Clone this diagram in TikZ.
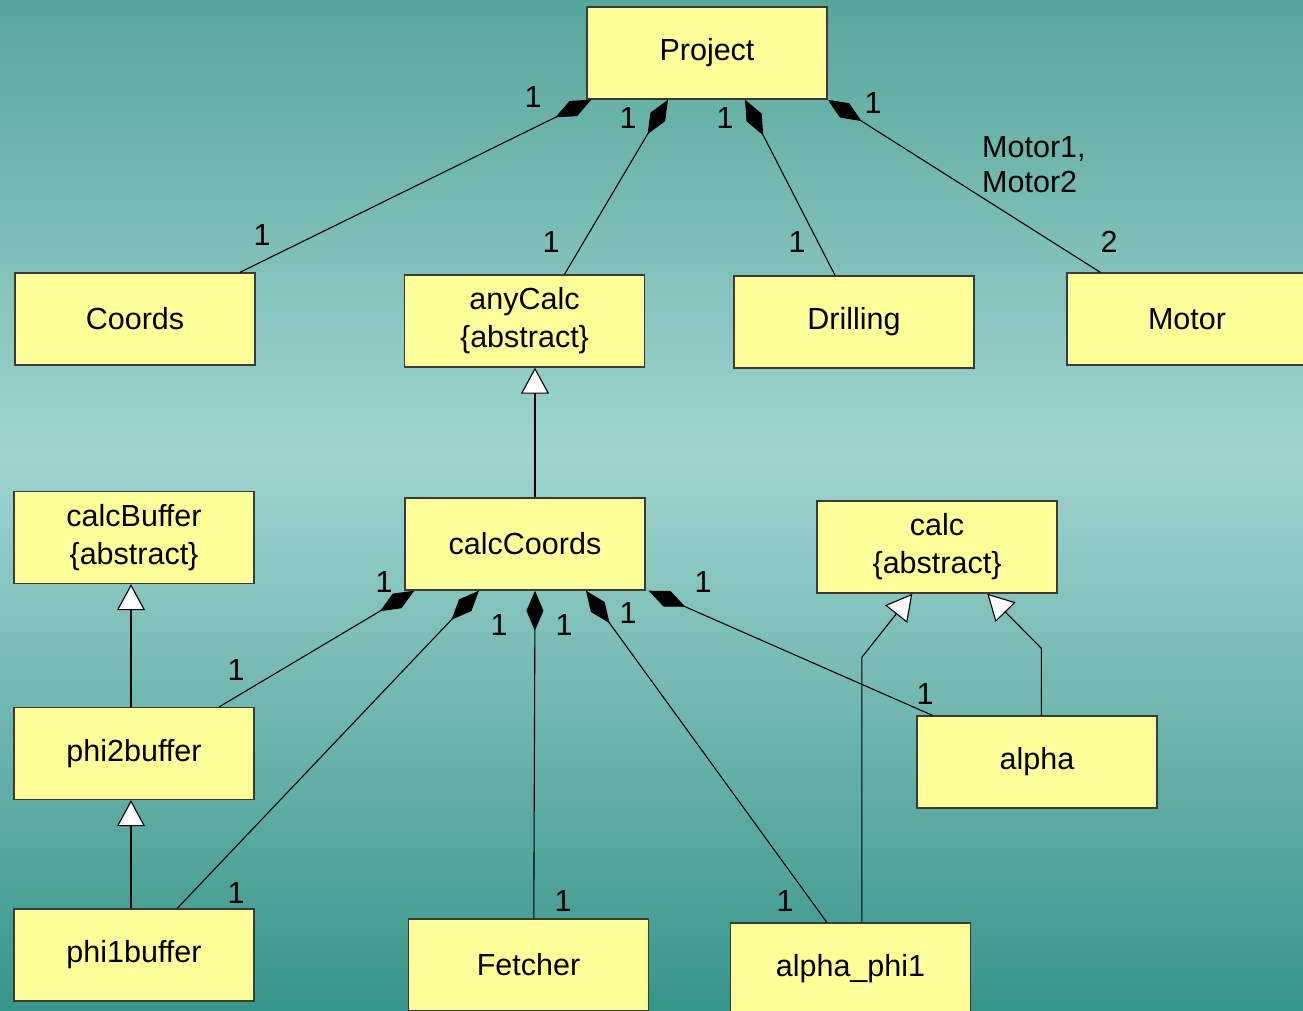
\documentclass[tikz,border=0pt]{standalone}
\usepackage{fontspec}
\setmainfont{Liberation Sans}
\usetikzlibrary{arrows.meta,calc}
\definecolor{bgtop}{HTML}{56A69A}
\definecolor{bgmid}{HTML}{A0D4CF}
\definecolor{bgbot}{HTML}{37958A}
\definecolor{boxfill}{HTML}{FFFF99}
\definecolor{boxline}{HTML}{3A3A3A}
\begin{document}
\begin{tikzpicture}[x=1pt,y=-1pt,
  cls/.style={draw=boxline, line width=1.4pt, fill=boxfill, minimum width=240pt,
    minimum height=92pt, inner sep=0pt, align=center,
    font=\fontsize{30.5}{38}\selectfont},
  mult/.style={font=\fontsize{30.5}{34}\selectfont, inner sep=0pt},
  comp/.style={line width=1.1pt, {Diamond[length=40pt,width=17pt]}-},
  inh/.style={line width=1.1pt, -{Triangle[length=26pt,width=28pt,fill=white]}},
]
\useasboundingbox (0,0) rectangle (1303,1010);
\begin{scope}
\clip (0,0) rectangle (1303,1010);
% background gradient
\shade[top color=bgtop,bottom color=bgmid] (0,0) rectangle (1303,455);
\shade[top color=bgmid,bottom color=bgbot] (0,454) rectangle (1303,1010);

% classes
\node[cls] (project)    at (707,53)    {Project};
\node[cls] (coords)     at (135,319)   {Coords};
\node[cls] (anycalc)    at (524.5,321) {anyCalc\\\{abstract\}};
\node[cls] (drilling)   at (854,322)   {Drilling};
\node[cls] (motor)      at (1187,319)  {Motor};
\node[cls] (calcbuffer) at (134,537.5) {calcBuffer\\\{abstract\}};
\node[cls] (calccoords) at (525,544)   {calcCoords};
\node[cls] (calc)       at (937,547)   {calc\\\{abstract\}};
\node[cls] (phitwo)     at (134,753.5) {phi2buffer};
\node[cls] (alpha)      at (1037,762)  {alpha};
\node[cls] (phione)     at (134,955)   {phi1buffer};
\node[cls] (fetcher)    at (528.5,965) {Fetcher};
\node[cls] (alphaphi)   at (850.5,969) {alpha\_phi1};

% compositions of Project
\draw[comp] ([xshift=5pt]project.south west) -- ([xshift=105pt]coords.north);
\draw[comp] ([xshift=-39pt]project.south) -- ([xshift=40pt]anycalc.north);
\draw[comp] ([xshift=38pt]project.south) -- ([xshift=-19pt]drilling.north);
\draw[comp] (project.south east) -- ([xshift=34pt]motor.north west);

% compositions of calcCoords
\draw[comp] ([xshift=10pt]calccoords.south west) -- ([xshift=206pt]phitwo.north west);
\draw[comp] ([xshift=-46pt]calccoords.south) -- ([xshift=164pt]phione.north west);
\draw[comp] ([xshift=10pt]calccoords.south) -- ([xshift=126pt]fetcher.north west);
\draw[comp] ([xshift=61pt]calccoords.south) -- ([xshift=97pt]alphaphi.north west);
\draw[comp] ([xshift=3pt]calccoords.south east) -- ([xshift=16pt]alpha.north west);

% generalisations
\draw[inh] ([xshift=10pt]calccoords.north) -- ([xshift=10.5pt]anycalc.south);
\draw[inh] ([xshift=-3pt]phitwo.north) -- ([xshift=-3pt]calcbuffer.south);
\draw[inh] ([xshift=-3pt]phione.north) -- ([xshift=-3pt]phitwo.south);
\draw[inh] ([xshift=132pt]alphaphi.north west) -- ++(0,-265) -- ([xshift=96pt]calc.south west);
\draw[inh] ([xshift=125pt]alpha.north west) -- ++(0,-67) -- ([xshift=171pt]calc.south west);

% multiplicities
\node[mult] (m1)  at (533,97)   {1};
\node[mult] (m2)  at (262,235)  {1};
\node[mult] (m3)  at (628,118)  {1};
\node[mult] (m4)  at (551,242)  {1};
\node[mult] (m5)  at (725,118)  {1};
\node[mult] (m6)  at (797,242)  {1};
\node[mult] (m7)  at (873,103)  {1};
\node[mult] (m8)  at (1109,242) {2};
\node[mult, anchor=west, align=left, font=\fontsize{30.5}{35}\selectfont] (roles) at (982,165) {Motor1,\\Motor2};
\node[mult] (m9)  at (384,582)  {1};
\node[mult] (m10) at (236,670)  {1};
\node[mult] (m11) at (499,625)  {1};
\node[mult] (m12) at (236,893)  {1};
\node[mult] (m13) at (564,625)  {1};
\node[mult] (m14) at (563,901)  {1};
\node[mult] (m15) at (628,613)  {1};
\node[mult] (m16) at (785,901)  {1};
\node[mult] (m17) at (703,582)  {1};
\node[mult] (m18) at (925,694)  {1};
\end{scope}
\end{tikzpicture}
\end{document}
